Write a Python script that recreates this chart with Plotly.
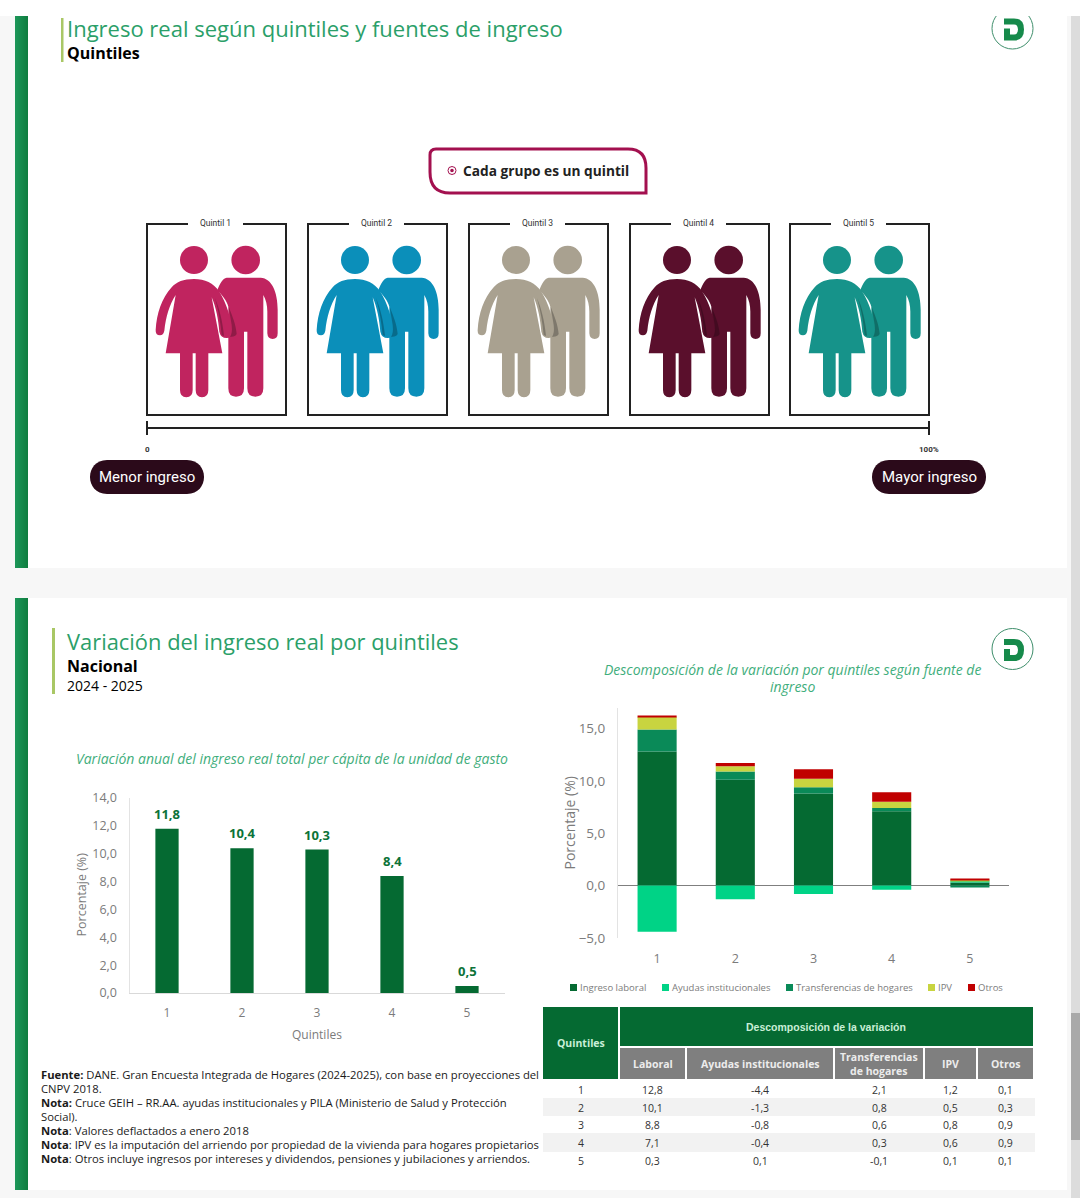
import re
import plotly.graph_objects as go

# Datos
quintiles = ["1", "2", "3", "4", "5"]
variacion_total = [11.8, 10.4, 10.3, 8.4, 0.5]
laboral = [12.8, 10.1, 8.8, 7.1, 0.3]
ayudas = [-4.4, -1.3, -0.8, -0.4, 0.1]
transferencias = [2.1, 0.8, 0.6, 0.3, -0.1]
ipv = [1.2, 0.5, 0.8, 0.6, 0.1]
otros = [0.1, 0.3, 0.9, 0.9, 0.1]
fuentes = ["Ingreso laboral", "Ayudas institucionales", "Transferencias de hogares", "IPV", "Otros"]
fuentes_color = ["#056a32", "#00d386", "#0a8a58", "#c8d440", "#c00000"]
grupos = ["Quintil 1", "Quintil 2", "Quintil 3", "Quintil 4", "Quintil 5"]
grupos_color = ["#c0245f", "#0b8fba", "#a9a190", "#5a0f2c", "#16938a"]

notas = [
    "<b>Fuente:</b> DANE. Gran Encuesta Integrada de Hogares (2024-2025), con base en proyecciones del",
    "CNPV 2018.",
    "<b>Nota:</b> Cruce GEIH – RR.AA. ayudas institucionales y PILA (Ministerio de Salud y Protección",
    "Social).",
    "<b>Nota</b>: Valores deflactados a enero 2018",
    "<b>Nota</b>: IPV es la imputación del arriendo por propiedad de la vivienda para hogares propietarios",
    "<b>Nota</b>: Otros incluye ingresos por intereses y dividendos, pensiones y jubilaciones y arriendos.",
]

W, H = 1080, 1198
FONT = "Open Sans"
NARROW = "Roboto"
VERDE = "#2b9f69"
GRIS = "#7b7b7b"

shapes = []
annots = []


def rect(x0, y0, x1, y1, color, line=None, width=0):
    shapes.append(dict(type="rect", xref="x", yref="y", x0=x0, y0=y0, x1=x1, y1=y1,
                       fillcolor=color, layer="below",
                       line=dict(color=line or color, width=width)))


def path(d, color, line=None, width=0, opacity=1):
    shapes.append(dict(type="path", xref="x", yref="y", path=d, fillcolor=color, layer="below",
                       opacity=opacity, line=dict(color=line or color, width=width)))


def linea(x0, y0, x1, y1, color="#222222", width=2):
    shapes.append(dict(type="line", xref="x", yref="y", x0=x0, y0=y0, x1=x1, y1=y1,
                       layer="below", line=dict(color=color, width=width)))


def circulo(cx, cy, r, color, line=None, width=0):
    shapes.append(dict(type="circle", xref="x", yref="y", x0=cx-r, y0=cy-r, x1=cx+r, y1=cy+r,
                       fillcolor=color, layer="below", line=dict(color=line or color, width=width)))


def texto(x, y, s, size=12, color="#000000", anchor="left", font=FONT, angle=0):
    annots.append(dict(xref="x", yref="y", x=x - 1 if anchor == "left" else x, y=y, text=s, showarrow=False,
                       xanchor=anchor, yanchor="middle", align=anchor, textangle=angle,
                       borderpad=0, font=dict(family=font, size=size, color=color)))


# Fondo de la pagina
rect(0, 16, 15, H, "#f7f7f7")
rect(28, 16, 1067, 568, "#ffffff")
rect(28, 598, 1067, 1190, "#ffffff")
rect(1071, 16, W, H, "#dcdcdc")
rect(1071, 1013, W, 1140, "#a9a9a9")
for y0, y1 in [(16, 568), (598, 1190)]:
    for i in range(13):
        c = "#%02x%02x%02x" % (28 - i, 150 - 2*i, 88 - 2*i)
        rect(15 + i, y0, 16 + i, y1, c)


def logo(dy):
    circulo(1012.5, 649 + dy, 20.5, "#ffffff", "#3f8f6c", 1)
    path(f"M 1004 {639+dy} L 1014 {639+dy} Q 1024 {639+dy} 1024 {650+dy} Q 1024 {661+dy} 1014 {661+dy} "
         f"L 1004 {661+dy} Z", "#168a4b")
    path(f"M 1003 {645+dy} L 1014 {645+dy} Q 1018 {645+dy} 1018 {650+dy} Q 1018 {655+dy} 1014 {655+dy} "
         f"L 1010 {655+dy} L 1010 {649+dy} L 1003 {649+dy} Z", "#ffffff")


logo(0)
logo(-620.5)
rect(0, 0, W, 16, "#ffffff")

# Encabezados
rect(61, 18, 63.5, 62, "#a9c765")
texto(67, 28, "Ingreso real según quintiles y fuentes de ingreso", 22, VERDE)
texto(67, 53, "<b>Quintiles</b>", 16)
rect(52, 628, 55, 694, "#a9c765")
texto(67, 641, "Variación del ingreso real por quintiles", 21.9, VERDE)
texto(67, 666, "<b>Nacional</b>", 16)
texto(67, 685.5, "2024 - 2025", 14)

# Recuadro "Cada grupo es un quintil"
path("M 436 149 L 628 149 Q 646 149 646 168 L 646 193 L 450 193 Q 430 193 430 172 L 430 155 Q 430 149 436 149 Z",
     "#ffffff", "#a3104f", 3)
circulo(452, 170.5, 4, "#ffffff", "#a3104f", 1)
circulo(452, 170.5, 1.8, "#a3104f")
texto(463, 170, "<b>Cada grupo es un quintil</b>", 13.7, "#222222")

# Figuras: coordenadas dibujadas sobre una grilla propia y luego llevadas a cada caja
MUJER = ("M 77 360 C 80 310 95 265 125 232 C 140 215 160 207 192 207 C 225 207 250 218 268 245 "
         "C 290 280 303 325 307 365 Q 308 384 290 384 Q 272 384 268 365 C 265 330 258 290 245 262 "
         "L 277 430 L 235 430 L 235 540 Q 235 562 216 562 Q 197 562 197 540 L 197 430 L 188 430 "
         "L 188 540 Q 188 562 169 562 Q 150 562 150 540 L 150 430 L 107 430 L 137 255 "
         "C 118 285 108 320 103 362 Q 100 376 90 376 Q 76 376 77 360 Z")
HOMBRE = ("M 290 203 L 392 203 C 425 205 443 245 443 300 L 443 370 Q 443 387 428 387 Q 413 387 412 370 "
          "L 412 305 C 412 285 408 270 400 255 L 400 535 Q 400 560 376 560 Q 352 560 352 535 L 352 365 "
          "L 342 365 L 342 535 Q 342 560 318 560 Q 295 560 295 535 L 295 290 C 290 270 275 255 262 240 "
          "C 270 220 278 205 290 203 Z")
SOMBRA1 = "M 255 265 C 265 300 272 340 275 375 L 282 378 C 278 335 268 295 255 265 Z"
SOMBRA2 = "M 296 290 C 308 320 318 345 320 372 Q 315 382 300 380 Q 308 370 305 345 C 302 325 298 305 296 290 Z"


def lleva(d, bx, by):
    it = iter(range(10000))

    def conv(m):
        v = float(m.group(0))
        if next(it) % 2 == 0:
            return f"{bx + v/3 - 17:.2f}"
        return f"{by + v/3 - 14:.2f}"
    return re.sub(r"\d+\.?\d*", conv, d)


cajas_x = [147, 308, 469, 630, 790]
for bx, nombre, col in zip(cajas_x, grupos, grupos_color):
    by = 224
    rect(bx, by, bx + 139, by + 191, "#ffffff", "#222222", 2)
    rect(bx + 41, by - 3, bx + 96, by + 3, "#ffffff")
    texto(bx + 68.5, by - 1, nombre, 8.5, "#333333", "center", NARROW)
    circulo(bx + 47, by + 36, 14, col)
    circulo(bx + 98.7, by + 36, 14.3, col)
    path(lleva(HOMBRE, bx, by), col)
    path(lleva(MUJER, bx, by), col)
    path(lleva(SOMBRA1, bx, by), "#000000", opacity=0.25)
    path(lleva(SOMBRA2, bx, by), "#000000", opacity=0.25)

# Regla de 0 a 100%
linea(147, 428, 929, 428)
linea(147, 421, 147, 435)
linea(929, 421, 929, 435)
texto(147, 449, "<b>0</b>", 8, "#333333", "center", NARROW)
texto(929, 449, "<b>100%</b>", 8, "#333333", "center", NARROW)


def pastilla(x0, x1, y0, y1, s):
    r = (y1 - y0) / 2
    path(f"M {x0+r} {y0} L {x1-r} {y0} C {x1-r/3} {y0} {x1} {y0+r/2} {x1} {y0+r} C {x1} {y1-r/2} {x1-r/3} {y1} {x1-r} {y1} "
         f"L {x0+r} {y1} C {x0+r/3} {y1} {x0} {y1-r/2} {x0} {y0+r} C {x0} {y0+r/2} {x0+r/3} {y0} {x0+r} {y0} Z",
         "#2b0a1a")
    texto((x0 + x1) / 2, (y0 + y1) / 2, s, 15, "#ffffff", "center", NARROW)


pastilla(90, 204, 460, 494, "Menor ingreso")
pastilla(872, 986, 460, 494, "Mayor ingreso")

# Subtitulos de los graficos
texto(76, 758, "<i>Variación anual del ingreso real total per cápita de la unidad de gasto</i>", 14, "#3fae7c")
texto(792, 669, "<i>Descomposición de la variación por quintiles según fuente de</i>", 14, "#3fae7c", "center")
texto(792, 686, "<i>ingreso</i>", 14, "#3fae7c", "center")

# Leyenda del grafico apilado
ley_x = [570, 662, 786, 928, 968]
for x, nombre, col in zip(ley_x, fuentes, fuentes_color):
    rect(x, 984, x + 7, 991, col)
    texto(x + 9.5, 987.5, nombre, 9.5, GRIS)

# Titulos de los ejes
texto(80.5, 895, "Porcentaje (%)", 12.5, GRIS, "center", angle=-90)
texto(568.5, 823, "Porcentaje (%)", 14, GRIS, "center", angle=-90)
texto(317, 1034, "Quintiles", 12, GRIS, "center")

# Etiquetas de valor sobre las barras (x es la posicion de la categoria)
for i, v in enumerate(variacion_total):
    annots.append(dict(xref="x2", yref="y2", x=i, y=v, yshift=15, showarrow=False, yanchor="middle",
                       text="<b>" + f"{v:.1f}".replace(".", ",") + "</b>",
                       font=dict(family=FONT, size=13, color="#0c7338")))

# Tabla
HV = "#056a32"
HG = "#7f7f7f"
rect(543, 1007, 618, 1079, HV)
rect(620, 1007, 1033, 1046, HV)
texto(580.5, 1043, "<b>Quintiles</b>", 10.5, "#c9efd7", "center")
texto(826, 1027, "<b>Descomposición de la variación</b>", 10.5, "#c9efd7", "center", "Liberation Sans")
col_x = [(620, 685), (687, 833), (835, 923), (925, 976), (978, 1033)]
col_titulo = ["Laboral", "Ayudas institucionales", "Transferencias<br>de hogares", "IPV", "Otros"]
for (x0, x1), t in zip(col_x, col_titulo):
    rect(x0, 1048, x1, 1079, HG)
    texto((x0 + x1) / 2, 1063.5, f"<b>{t}</b>", 10.5, "#ececec", "center")
rect(543, 1098, 1035, 1116, "#f2f2f2")
rect(543, 1133, 1035, 1152, "#f2f2f2")
fila_y = [1090, 1108, 1125, 1143, 1161]
centros = [580.5] + [(a + b) / 2 for a, b in col_x]
for k, q in enumerate(quintiles):
    fila = [q] + [f"{s[k]:.1f}".replace(".", ",") for s in (laboral, ayudas, transferencias, ipv, otros)]
    for cx, v in zip(centros, fila):
        texto(cx, fila_y[k], v, 10.5, "#333333", "center")

# Notas
nota_y = [1074, 1088, 1102, 1116, 1130, 1144, 1158]
for y, s in zip(nota_y, notas):
    texto(41, y, s, 11.25, "#1a1a1a")

fig = go.Figure()

# eje de pagina en pixeles (va primero para quedar debajo de las barras)
fig.add_trace(go.Scatter(x=[], y=[], xaxis="x", yaxis="y", showlegend=False, hoverinfo="skip"))

# Variacion total por quintil
fig.add_trace(go.Bar(x=quintiles, y=variacion_total, width=0.31, marker_color="#056a32", marker_line_width=0,
                     xaxis="x2", yaxis="y2", showlegend=False))

# Descomposicion apilada
for nombre, valores, col in zip(fuentes, [laboral, ayudas, transferencias, ipv, otros], fuentes_color):
    fig.add_trace(go.Bar(x=quintiles, y=valores, name=nombre, width=0.5, marker_color=col, marker_line_width=0,
                         xaxis="x3", yaxis="y3", showlegend=False))

fig.update_layout(
    width=W, height=H, margin=dict(l=0, r=0, t=0, b=0), autosize=False,
    paper_bgcolor="#f7f7f7", plot_bgcolor="rgba(0,0,0,0)",
    barmode="relative", separators=",.", showlegend=False,
    font=dict(family=FONT, color=GRIS),
    shapes=shapes, annotations=annots,
    xaxis=dict(domain=[0, 1], range=[0, W], visible=False, anchor="y", fixedrange=True, automargin=False),
    yaxis=dict(domain=[0, 1], range=[H, 0], visible=False, anchor="x", fixedrange=True, automargin=False),
    xaxis2=dict(domain=[129.5/W, 504.5/W], anchor="y2", type="category", range=[-0.5, 4.5],
                showline=True, linecolor="#d9d9d9", linewidth=1,
                ticks="outside", ticklen=9, tickcolor="rgba(0,0,0,0)", tickfont=dict(size=12, color=GRIS),
                fixedrange=True, automargin=False),
    yaxis2=dict(domain=[1 - 993/H, 1 - 798/H], anchor="x2", range=[0, 14], dtick=2, tickformat=".1f",
                showgrid=False, zeroline=False, showline=True, linecolor="#e3e3e3", linewidth=1,
                tickfont=dict(size=12.5, color=GRIS), ticks="outside", ticklen=9, tickcolor="rgba(0,0,0,0)",
                fixedrange=True, automargin=False),
    xaxis3=dict(domain=[618/W, 1009/W], anchor="y3", type="category", range=[-0.5, 4.5],
                showline=False, ticks="outside", ticklen=9,
                tickcolor="rgba(0,0,0,0)", tickfont=dict(size=12.5, color=GRIS), fixedrange=True, automargin=False),
    yaxis3=dict(domain=[1 - 938/H, 1 - 707.5/H], anchor="x3", range=[-5, 17], tickvals=[-5, 0, 5, 10, 15], tickformat=".1f",
                showgrid=False, zeroline=True, zerolinecolor="#7f7f7f", zerolinewidth=1,
                showline=True, linecolor="#e3e3e3", linewidth=1, tickfont=dict(size=13.5, color=GRIS),
                ticks="outside", ticklen=9, tickcolor="rgba(0,0,0,0)", fixedrange=True, automargin=False),
)

fig.write_html("out.html", config={"displayModeBar": False},
               post_script="document.body.style.margin='0';document.documentElement.style.overflow='hidden';")
